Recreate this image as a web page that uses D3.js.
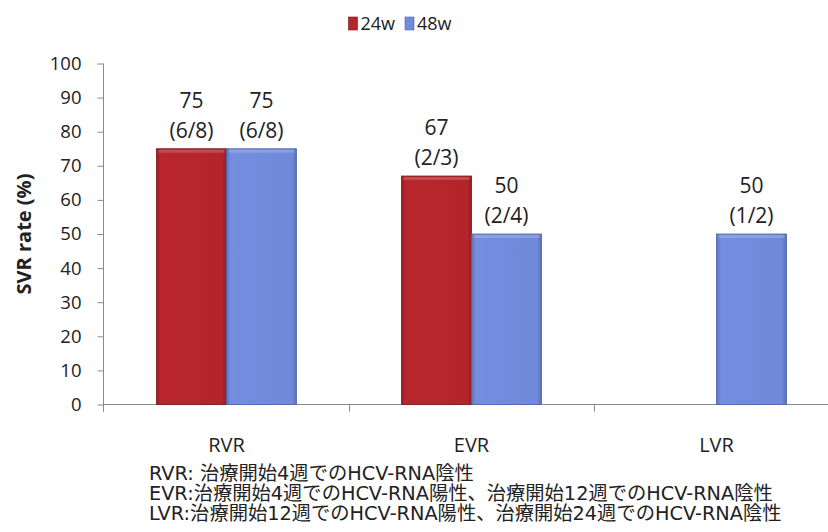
<!DOCTYPE html>
<html>
<head>
<meta charset="utf-8">
<script src="https://cdn.jsdelivr.net/npm/d3@7"></script>
<style>
  html, body { margin: 0; padding: 0; background: #fff; }
  svg { display: block; }
  text { font-family: "Open Sans", "Noto Sans", sans-serif; fill: #222; }
  .jp { font-family: "DejaVu Sans", "Noto Sans CJK JP", sans-serif; }
</style>
</head>
<body>
<svg id="chart" width="828" height="532"></svg>
<script>
// SVR rate by response type and treatment duration
const categories = ["RVR", "EVR", "LVR"];
const seriesNames = ["24w", "48w"];
const values24w = [75, 67, null];
const values48w = [75, 50, 50];
const counts24w = ["(6/8)", "(2/3)", null];
const counts48w = ["(6/8)", "(2/4)", "(1/2)"];
const yTicks = [0, 10, 20, 30, 40, 50, 60, 70, 80, 90, 100];
const yTitle = "SVR rate (%)";
const notes = [
  "RVR: 治療開始4週でのHCV-RNA陰性",
  "EVR:治療開始4週でのHCV-RNA陽性、治療開始12週でのHCV-RNA陰性",
  "LVR:治療開始12週でのHCV-RNA陽性、治療開始24週でのHCV-RNA陰性"
];

const colors = { "24w": "#b3252b", "48w": "#7089d8" };
const edges = { "24w": "#7e1518", "48w": "#4c63b0" };

const svg = d3.select("#chart");
const defs = svg.append("defs");

// soft bevel look for the bars
seriesNames.forEach(s => {
  const c = d3.color(colors[s]);
  const g = defs.append("linearGradient").attr("id", "grad-" + s)
    .attr("x1", 0).attr("x2", 1).attr("y1", 0).attr("y2", 0);
  g.append("stop").attr("offset", "0%").attr("stop-color", c.darker(0.5));
  g.append("stop").attr("offset", "6%").attr("stop-color", c.brighter(0.1));
  g.append("stop").attr("offset", "94%").attr("stop-color", c);
  g.append("stop").attr("offset", "100%").attr("stop-color", c.darker(0.6));
});

const rows = categories.map((c, i) => ({
  category: c,
  bars: [
    { series: "24w", value: values24w[i], count: counts24w[i] },
    { series: "48w", value: values48w[i], count: counts48w[i] }
  ].filter(b => b.value !== null)
}));

const x0 = d3.scaleBand().domain(categories).range([104, 839]).padding(0);
const x1 = d3.scaleBand().domain(seriesNames).range([0, x0.bandwidth()])
  .paddingInner(0).paddingOuter(0.75);
const y = d3.scaleLinear().domain([0, 100]).range([404.5, 63.5]);

// y axis
const yAxis = svg.append("g").attr("transform", "translate(103.5,0)")
  .call(d3.axisLeft(y).tickValues(yTicks).tickSize(6).tickPadding(16));
yAxis.select(".domain").attr("stroke", "#8a8a8a").attr("d", "M-0,63.5V412");
yAxis.selectAll(".tick line").attr("stroke", "#8a8a8a");
yAxis.selectAll(".tick text").attr("font-size", 18.5).attr("fill", "#222")
  .attr("font-family", "'Open Sans', sans-serif");

// x axis line with category boundary ticks
svg.append("line").attr("x1", 103.5).attr("x2", 828)
  .attr("y1", y(0)).attr("y2", y(0)).attr("stroke", "#8a8a8a");
svg.selectAll(".xtick").data(categories.slice(1)).join("line")
  .attr("class", "xtick")
  .attr("x1", d => Math.round(x0(d)) + 0.5).attr("x2", d => Math.round(x0(d)) + 0.5)
  .attr("y1", y(0)).attr("y2", y(0) + 7).attr("stroke", "#8a8a8a");

// category labels
svg.selectAll(".cat").data(categories).join("text")
  .attr("class", "cat")
  .attr("x", d => x0(d) + x0.bandwidth() / 2)
  .attr("y", 452)
  .attr("text-anchor", "middle")
  .attr("font-size", 20)
  .text(d => d);

// bars
const groups = svg.selectAll(".grp").data(rows).join("g")
  .attr("class", "grp")
  .attr("transform", d => `translate(${x0(d.category)},0)`);

groups.selectAll("rect").data(d => d.bars).join("rect")
  .attr("x", d => x1(d.series))
  .attr("y", d => y(d.value))
  .attr("width", x1.bandwidth())
  .attr("height", d => y(0) - y(d.value))
  .attr("fill", d => `url(#grad-${d.series})`)
  .attr("stroke", d => edges[d.series])
  .attr("stroke-width", 0.8);

// top highlight strip
groups.selectAll(".hl").data(d => d.bars).join("rect")
  .attr("class", "hl")
  .attr("x", d => x1(d.series) + 2)
  .attr("y", d => y(d.value) + 1)
  .attr("width", x1.bandwidth() - 4)
  .attr("height", 3)
  .attr("fill", "#fff").attr("opacity", 0.18);

// value labels
const lbl = groups.selectAll(".val").data(d => d.bars).join("text")
  .attr("class", "val")
  .attr("text-anchor", "middle")
  .attr("font-size", 21);
lbl.append("tspan")
  .attr("x", d => x1(d.series) + x1.bandwidth() / 2)
  .attr("y", d => y(d.value) - 41)
  .text(d => d.value);
lbl.append("tspan")
  .attr("x", d => x1(d.series) + x1.bandwidth() / 2)
  .attr("y", d => y(d.value) - 11)
  .text(d => d.count);

// y axis title
svg.append("text")
  .attr("transform", `translate(31,${(y(0) + y(100)) / 2}) rotate(-90)`)
  .attr("text-anchor", "middle")
  .attr("font-size", 20)
  .attr("font-weight", "bold")
  .text(yTitle);

// legend, centred above the plot
const legend = svg.append("g");
let lx = 0;
seriesNames.forEach((s, i) => {
  const g = legend.append("g").attr("transform", `translate(${lx},0)`);
  g.append("rect").attr("x", 0).attr("y", 17).attr("width", 9).attr("height", 13)
    .attr("fill", `url(#grad-${s})`).attr("stroke", edges[s]).attr("stroke-width", 0.6);
  const t = g.append("text").attr("x", 12).attr("y", 30).attr("font-size", 18).text(s);
  lx += 12 + t.node().getComputedTextLength() + 10;
});
legend.attr("transform", `translate(${400 - (lx - 10) / 2},0)`);

// footnotes
svg.selectAll(".note").data(notes).join("text")
  .attr("class", "note jp")
  .attr("x", 149)
  .attr("y", (d, i) => 480 + i * 20)
  .attr("font-size", 19.3)
  .text(d => d);
</script>
</body>
</html>
